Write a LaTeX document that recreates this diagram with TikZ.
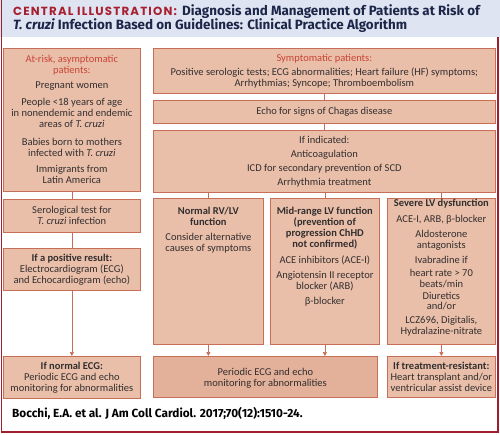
\documentclass[tikz,border=0pt]{standalone}
\usepackage{fontspec}
\setmainfont{Carlito}
\newfontfamily\titlefont{Fira Sans}
\newfontfamily\poppins{Poppins}
\usetikzlibrary{arrows.meta}
\definecolor{band}{RGB}{222,228,241}
\definecolor{titlered}{RGB}{168,32,48}
\definecolor{navy}{RGB}{28,38,72}
\definecolor{boxf}{RGB}{234,191,170}
\definecolor{boxd}{RGB}{227,176,154}
\definecolor{bord}{RGB}{198,110,88}
\definecolor{head}{RGB}{200,68,52}
\definecolor{txt}{RGB}{50,46,46}
\definecolor{frame}{RGB}{160,30,45}
\newcommand\bxt[4]{\parbox[c][#2pt][#3]{#1pt}{\centering #4}}
\begin{document}
\begin{tikzpicture}[x=1pt,y=-1pt,
  box/.style={draw=bord, fill=boxf, line width=0.7pt, inner sep=0pt, anchor=north west,
    font=\fontsize{10.5}{11}\selectfont, text=txt},
  conn/.style={draw=bord, line width=0.7pt},
  arr/.style={conn, -{Triangle[length=4pt,width=4pt]}}]
\useasboundingbox (0,0) rectangle (500,434);
\fill[white] (0,0) rectangle (500,434);
% title band
\fill[band] (0,0) rectangle (500,37);
\node[anchor=north west, inner sep=0pt, align=left, text=navy,
  font=\titlefont\bfseries\fontsize{13.4}{13}\selectfont] (title) at (13,4)
  {{\color{titlered}\poppins\bfseries\fontsize{11.8}{13}\selectfont\addfontfeatures{LetterSpace=10}CENTRAL ILLUSTRATION:}\hspace{2pt} Diagnosis and Management of Patients at Risk of\\
   \textit{T. cruzi} Infection Based on Guidelines: Clinical Practice Algorithm};
% frame
\draw[frame, line width=0.8pt] (1,0) -- (1,432.5);
\draw[frame, line width=2pt] (498,37) -- (498,432) -- (1,432);
% left column
\node[box] (risk) at (3,48) {\bxt{137}{143}{t}{\vspace*{6.5pt}
  {\color{head}At-risk, asymptomatic\\patients:}\\[4.3pt]
  Pregnant women\\[6.4pt]
  People <18 years of age\\in nonendemic and endemic\\areas of \textit{T. cruzi}\\[6.3pt]
  Babies born to mothers\\infected with \textit{T. cruzi}\\[5.7pt]
  Immigrants from\\Latin America}};
\node[box] (sero) at (3,199) {\bxt{137}{33}{c}{Serological test for\\\textit{T. cruzi} infection}};
\node[box] (pos) at (3,248) {\bxt{137}{42}{c}{\textbf{If a positive result:}\\Electrocardiogram (ECG)\\and Echocardiogram (echo)}};
\node[box] (necg) at (3,356) {\bxt{137}{42}{c}{\textbf{If normal ECG:}\\Periodic ECG and echo\\monitoring for abnormalities}};
% right column
\node[box] (sym) at (153,48) {\bxt{342}{45}{c}{{\color{head}Symptomatic patients:}\\[3pt]
  Positive serologic tests; ECG abnormalities; Heart failure (HF) symptoms;\\
  Arrhythmias; Syncope; Thromboembolism}};
\node[box] (echo) at (153,100) {\bxt{342}{23}{c}{Echo for signs of Chagas disease}};
\node[box] (ind) at (153,130) {\bxt{342}{62}{c}{If indicated:\\[3pt]Anticoagulation\\[3pt]ICD for secondary prevention of SCD\\[3pt]Arrhythmia treatment}};
\node[box] (norm) at (153,198) {\bxt{110}{146}{t}{\vspace*{8.5pt}\textbf{Normal RV/LV\\function}\\[4pt]Consider alternative\\causes of symptoms}};
\node[box] (mid) at (270,198) {\bxt{109}{146}{t}{\vspace*{8.5pt}\textbf{Mid-range LV function\\(prevention of\\progression ChHD\\not confirmed)}\\[5pt]
  ACE inhibitors (ACE-I)\\[4pt]Angiotensin II receptor\\blocker (ARB)\\[4pt]β-blocker}};
\node[box] (sev) at (387,198) {\bxt{108}{146}{t}{\vspace*{1pt}\textbf{Severe LV dysfunction}\\[4.5pt]
  ACE-I, ARB, β-blocker\\[4pt]Aldosterone\\antagonists\\[4.5pt]Ivabradine if\\[2pt]heart rate > 70\\beats/min\\[1pt]Diuretics\\[-1pt]and/or\\[3pt]LCZ696, Digitalis,\\Hydralazine-nitrate}};
\node[box, fill=boxd] (per) at (153,356) {\bxt{224}{41}{c}{\vspace*{2pt}Periodic ECG and echo\\monitoring for abnormalities}};
\node[box] (res) at (387,356) {\bxt{108}{41}{c}{\textbf{If treatment-resistant:}\\Heart transplant and/or\\ventricular assist device}};
% connectors
\draw[conn] (risk.south) -- (sero.north);
\draw[conn] (sero.south) -- (pos.north);
\draw[arr] (pos.south) -- (necg.north);
\draw[conn] (sym.south) -- (echo.north);
\draw[conn] (echo.south) -- (ind.north);
\draw[conn] (ind.south -| norm.north) -- (norm.north);
\draw[conn] (ind.south -| mid.north) -- (mid.north);
\draw[conn] (ind.south -| sev.north) -- (sev.north);
\draw[arr] (norm.south) -- (norm.south |- per.north);
\draw[arr] (mid.south) -- (mid.south |- per.north);
\draw[arr] (sev.south) -- (res.north);
% citation
\node[anchor=west, inner sep=0pt, text=black, font=\titlefont\bfseries\fontsize{11.8}{13}\selectfont] (cite) at (12,413)
  {Bocchi, E.A. et al. J Am Coll Cardiol. 2017;70(12):1510-24.};
\end{tikzpicture}
\end{document}
